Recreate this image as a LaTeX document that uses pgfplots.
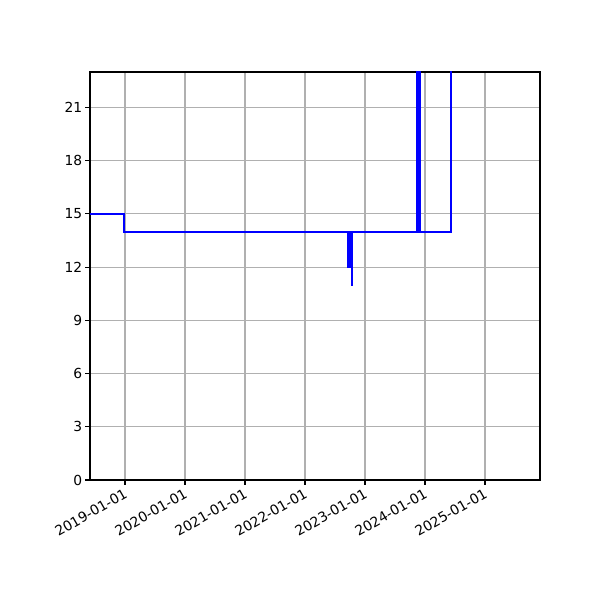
\documentclass[border=0pt]{standalone}
\usepackage{pgfplots}
\pgfplotsset{compat=1.18}
\usepackage{fontspec}
\setmainfont{DejaVu Sans}
\begin{document}
\begin{tikzpicture}
\begin{axis}[
  name=ax,
  scale only axis,
  width=4.5in, height=4.08in,
  xmin=2018.417, xmax=2025.917,
  ymin=0, ymax=23,
  xtick={2019,2020,2021,2022,2023,2024,2025},
  xticklabels={2019-01-01,2020-01-01,2021-01-01,2022-01-01,2023-01-01,2024-01-01,2025-01-01},
  ytick={0,3,6,9,12,15,18,21},
  /pgf/number format/assume math mode=true,
  tick label style={font=\fontsize{10}{12}\selectfont},
  xticklabel style={rotate=30, anchor=north east, inner sep=1pt, xshift=-1pt},
  yticklabel style={inner sep=2pt},
  tick align=outside,
  tick pos=left,
  major tick length=3.5pt,
  every tick/.style={black, line width=0.8pt},
  axis line style={line width=0.8pt},
  grid=major,
  major grid style={color=black!31, line width=0.8pt},
  axis on top=false,
]
\addplot[blue, line width=1.5pt, line join=miter] coordinates {
(2018.417,15) (2018.983,15) (2018.983,14)
(2022.725,14) (2022.725,12) (2022.730,12) (2022.730,14) (2022.735,14) (2022.735,12)
(2022.740,12) (2022.740,14) (2022.745,14) (2022.745,12) (2022.750,12) (2022.750,14)
(2022.755,14) (2022.755,12) (2022.760,12) (2022.760,14) (2022.766,14) (2022.766,12)
(2022.770,12) (2022.770,14) (2022.783,14) (2022.783,11) (2022.785,11) (2022.785,14)
(2023.867,14) (2023.867,30) (2023.873,30) (2023.873,14) (2023.880,14) (2023.880,30)
(2023.887,30) (2023.887,14) (2023.895,14) (2023.895,30) (2023.903,30) (2023.903,14)
(2023.910,14) (2023.910,30) (2023.917,30) (2023.917,14)
(2024.433,14) (2024.433,30)
};
\end{axis}
\path[use as bounding box] ([xshift=-0.9in,yshift=-1.2in]ax.south west) rectangle ([xshift=0.6in,yshift=0.72in]ax.north east);
\end{tikzpicture}
\end{document}
